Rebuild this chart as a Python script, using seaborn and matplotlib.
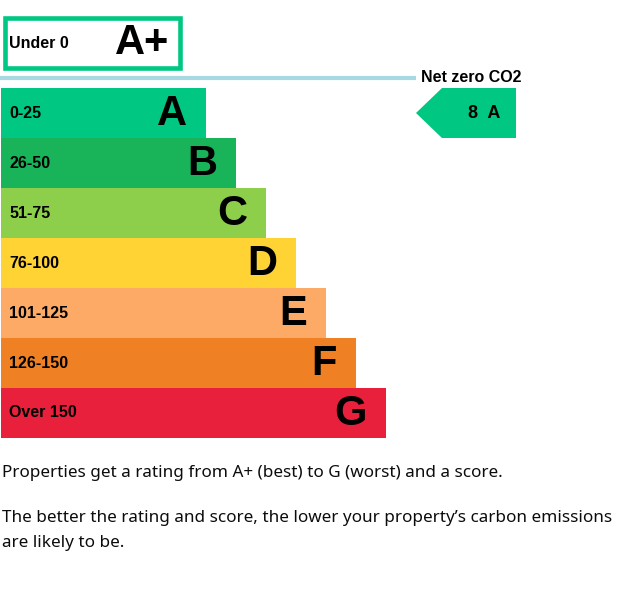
import matplotlib
matplotlib.use("Agg")
import matplotlib.pyplot as plt
import seaborn as sns
from matplotlib.patches import Rectangle, Polygon

# bands of the carbon rating chart
ranges = ["0-25", "26-50", "51-75", "76-100", "101-125", "126-150", "Over 150"]
letters = ["A", "B", "C", "D", "E", "F", "G"]
bar_len = [205, 235, 265, 295, 325, 355, 385]
colors = ["#00c781", "#19b459", "#8dce4b", "#ffd333", "#fcaa65", "#ef8023", "#e9203b"]

top_range = "Under 0"
top_letter = "A+"
current_score = 8
current_letter = "A"
target_label = "Net zero CO2"

para1 = "Properties get a rating from A+ (best) to G (worst) and a score."
para2 = ["The better the rating and score, the lower your property\u2019s carbon emissions",
         "are likely to be."]

W, H = 621, 589
sns.set_style("white")
plt.rcParams["font.family"] = ["Liberation Sans", "DejaVu Sans"]
plt.rcParams["text.color"] = "black"

fig = plt.figure(figsize=(W / 100, H / 100), dpi=100)
ax = fig.add_axes([0, 0, 1, 1])
ax.set_xlim(0, W)
ax.set_ylim(H, 0)
ax.axis("off")

# bars
bx = fig.add_axes([0, (H - 438) / H, 1, 350 / H])
sns.barplot(x=bar_len, y=ranges, hue=ranges, palette=colors, orient="h", saturation=1,
            width=1, linewidth=0, legend=False, ax=bx)
bx.set_xlim(-1, W - 1)
bx.axis("off")
for i, (r, l, n) in enumerate(zip(ranges, letters, bar_len)):
    bx.text(8, i, r, fontsize=11.5, fontweight="bold", va="center", ha="left")
    bx.text(n - 19, i + 0.02, l, fontsize=30, fontweight="bold", va="center", ha="right")

# A+ box
ax.add_patch(Rectangle((5, 17.5), 175, 50.5, fill=False, edgecolor="#00c781", linewidth=3.3))
ax.text(9, 43, top_range, fontsize=11.5, fontweight="bold", va="center", ha="left")
ax.text(142, 43, top_letter, fontsize=30, fontweight="bold", va="center", ha="center")

# net zero line
ax.plot([0, 416], [78, 78], color="#a8d8e2", linewidth=3, solid_capstyle="butt")
ax.text(421, 77, target_label, fontsize=11.5, fontweight="bold", va="center", ha="left")

# current rating arrow
ax.add_patch(Polygon([(416, 113), (442, 88), (516, 88), (516, 138), (442, 138)],
                     closed=True, facecolor="#00c781", edgecolor="none"))
ax.text(484, 113, f"{current_score}  {current_letter}", fontsize=13, fontweight="bold",
        va="center", ha="center")

# explanatory text
body = ["Noto Sans", "DejaVu Sans"]
ax.text(2, 473, para1, fontsize=12.3, family=body, va="center", ha="left", color="#0b0c0c")
ax.text(2, 518, para2[0], fontsize=12.3, family=body, va="center", ha="left", color="#0b0c0c")
ax.text(2, 543, para2[1], fontsize=12.3, family=body, va="center", ha="left", color="#0b0c0c")

fig.savefig("out.png", dpi=100)
